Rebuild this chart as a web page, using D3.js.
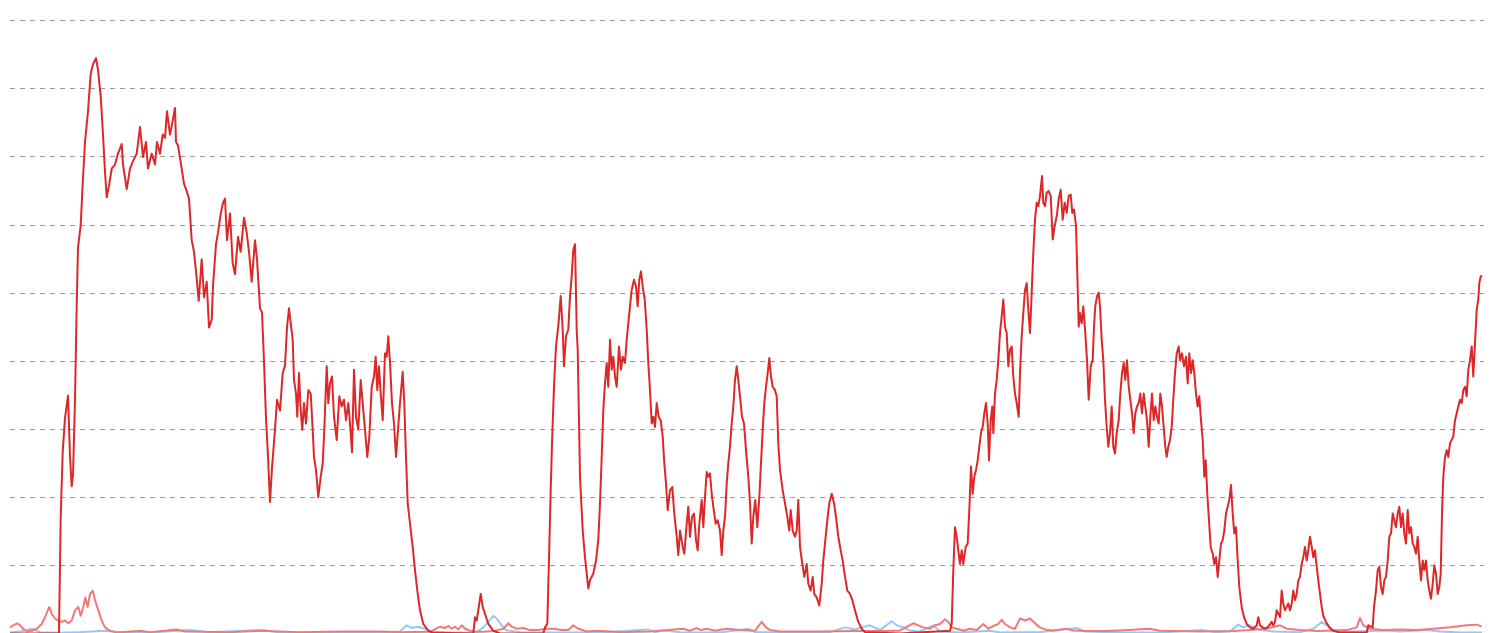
<!DOCTYPE html>
<html>
<head>
<meta charset="utf-8">
<script src="https://cdn.jsdelivr.net/npm/d3@7"></script>
<style>
  html, body { margin: 0; padding: 0; background: #ffffff; overflow: hidden; }
  svg { display: block; }
</style>
</head>
<body>
<svg id="chart" width="1490" height="633"></svg>
<script>
// ---- data (time index, value) ----
const yTicks = [10, 20, 30, 40, 50, 60, 70, 80, 90];

const mainT = [0,49,50.7,52.7,55,58,60,61.7,63,65,66.7,68,70.7,72.7,75,78,80.7,83,86,88,90.7,93,95,96.7,99,101.7,105,108,111.7,113,116.7,120,123,126.7,130,133,136,138,141.7,145,147,150,152.7,155,157,160,162.7,165,166,168,171.7,174,176.7,179,181.7,184,186.7,188.7,191.7,194,196.7,199,201.7,203,206,208,210.7,213,215,217,220,222.7,225,228,230.7,234,236.7,239,241.7,245,247,250,252,254,256,258,260,262,265,267,270,272.7,275,277,279,282.7,284,286,287.3,289,290.7,292.3,294,296,298.3,300.7,302.7,304,306,308.3,310.7,312.7,314.3,316.7,318.3,320,322,324,326.7,329.3,331.7,334,336,338.3,340,342,344,346,348.3,350.7,352.7,355,357.3,359.3,361.7,364,365.7,367.3,369,370.7,372.7,375,376.7,378.3,380,382,384,386,388,390,392.7,394.3,396,397.7,400,402.7,405,407.3,410,413.3,418.3,423.3,463.3,465,466.7,468.3,470.7,472.7,475,478.3,483.3,490,533.3,535,537.3,539.3,540.7,542,544,546,548.3,550.7,552.7,554,556,558.3,560,561.7,563.3,565,566.7,567.7,570,572.7,575,578.3,580,583.3,586,588.3,590,591.7,593.3,595,596.7,598.3,600,601.7,603.3,605,606.7,609,611,612.7,615,616.7,618.3,620,621.7,624,626,627.7,629.3,631,632.7,634.7,636.7,638.3,640,641.7,643.3,645,646.7,648.7,650.7,652.7,654.3,656,657.7,660,662.3,664.3,666.7,668.3,670,672.7,674.3,676.7,678.3,680,682,684,686,687.7,689.3,691.7,693.3,695,696.7,698.3,700,701.7,703.3,705.7,707.7,710,711.7,713.3,715,716.7,718.3,720,721.7,723.3,725,726.7,728.3,730,732,734,736,738.3,740,741.7,743.3,745.3,747.3,749.3,751,752.7,754.3,756,757.7,759.3,761,762.7,765,766.7,768.3,770,772.7,775,777.3,779.3,780.7,782.7,785,786.7,788.3,790,792.3,794.3,796.7,798.3,800.7,802.7,804.3,806.7,809.3,811.7,813.3,815,817.3,819.3,821.7,824,826,828.3,830.7,832.7,835,837.3,840,842.3,845,848.3,851.7,855,890,940,941.7,943.3,945,946.7,948.3,950,951.7,953.3,955.7,957.7,959.3,961,962.7,964.3,966,967.7,969.3,971,972.7,974.3,976,977.7,979,980.7,982.3,983.3,985,986.7,988.3,990,991.7,993.3,995,996.7,998.3,1000,1001.7,1003.3,1005,1006.7,1008.7,1010,1011.7,1013.3,1015,1016.7,1018.3,1020,1021.7,1023.3,1025,1026.7,1028.3,1030,1032,1033.3,1035,1036.7,1038.7,1040.7,1042.7,1044.7,1046.7,1048.7,1050.7,1052.7,1054.7,1056.7,1058.7,1060.7,1062.3,1064,1066,1067.3,1068.7,1070,1071.7,1073.3,1075.3,1077,1078.7,1080.7,1082.7,1084,1085.3,1087,1088.7,1090,1091.7,1093.3,1095,1096.7,1098.3,1100,1101.7,1103.3,1105,1106.7,1108.7,1110.3,1112,1113.7,1115.3,1117,1118.7,1120.3,1122,1123.7,1125.3,1127,1128.7,1130.3,1132,1133.7,1135.3,1137,1138.7,1140.3,1142,1143.7,1145.3,1147,1148.7,1150.3,1152,1153.7,1155.3,1156.7,1158.3,1160,1161.7,1163.3,1165,1166.7,1168.7,1170,1172,1174,1176,1177.7,1179.3,1181,1182.7,1184.3,1186,1187.7,1189.3,1191,1192.7,1194.3,1195.7,1197.3,1199,1200.7,1202.7,1204.3,1206,1207.7,1209.3,1211,1212.7,1214.3,1216,1217.7,1219.3,1221,1222.7,1224.3,1226,1227.7,1229.3,1231.7,1234,1236.7,1240,1243.3,1246.7,1248.3,1250,1252.7,1255,1257.3,1259.3,1261.7,1263.3,1265,1266.7,1268.3,1270,1271.7,1273.3,1275,1276.7,1278.3,1280,1281.7,1283.3,1285,1286.7,1288.3,1290,1291.7,1293.3,1295,1296.7,1298.3,1300,1301.7,1303.3,1305,1306.7,1308.3,1310,1311.7,1313.3,1316,1319.3,1323.3,1328.3,1356.7,1358.3,1362.7,1364,1366,1367.7,1369.3,1371,1372.7,1374.3,1376,1377.7,1379.3,1381,1382.7,1384.3,1386,1387.7,1389.3,1391,1392.7,1394.3,1396,1397.7,1399.3,1401,1402.7,1404.3,1406,1407.7,1409.3,1411,1412.7,1414.3,1416,1417.7,1419.3,1421,1422.7,1424.3,1426,1427.7,1429.3,1430.7,1432,1433.3,1435,1436.7,1438.3,1440,1441.7,1443.3,1445,1446.7,1448.3,1450,1451.7,1453.3,1455,1456.7,1458.3,1460,1461.7,1463.3,1465,1466.7,1468.3,1469.3,1470.7,1472.3];
const mainV = [0,0,17.1,26.6,31.6,34.9,26,21.6,23.2,34.3,48.2,56.6,59.9,66,72.1,76.6,82.1,83.5,84.4,82.7,78.8,73.2,67.7,64,65.7,68.2,68.8,70.4,71.8,68.8,65.2,68.2,69.3,70.4,74.3,69.9,72.1,68.2,70.4,68.8,72.1,70.4,73.2,72.7,76.6,73.2,75.2,77.1,72.1,71.6,68.2,66,64.9,63.8,57.7,56,52.1,48.8,54.9,49.3,51.6,44.9,46,51,57.1,58.8,61.6,63.2,63.8,57.7,61.6,54.3,52.7,58.2,56,61,58.8,56,51.6,57.7,54.9,47.7,47.1,39.9,31.6,26,19.3,24.3,29.9,34.3,32.7,38.2,39.3,44.9,47.7,43.1,37.2,35.2,31.8,38.2,32.8,29.9,33.8,30.8,35.7,35.2,29.9,25.9,24,20,23,24.9,29.9,39.2,33.8,36.7,37.7,31.8,28.4,34.8,33.3,34.3,31.3,33.8,30.8,26.6,38.7,31.8,29.9,37.2,33.8,29.9,25.9,28.8,36.2,37.7,40.6,35.7,39.2,35.2,31.3,41.1,40.6,43.6,39.7,33.8,30.8,25.9,29.9,33.8,38.4,33.8,25.9,19.1,16.1,12.7,9.3,6.3,3.4,1.4,0.4,0.1,0,2.4,1.9,3.4,5.8,3.9,2.9,1.4,0.4,0,0,0.9,1.4,12.7,21,27.9,36.2,42.1,45.1,49.5,44.6,39.2,43.6,44.6,49.5,52.4,56.3,57.1,44.6,41.6,23,15.1,11.2,6.6,7.8,8.8,10.7,13.7,19.1,25.9,32.8,36.7,39.7,36.2,43.1,38.7,40.6,37.7,36.2,42.1,38.7,40.6,39.7,43.1,45.5,48,50.4,51.9,50.9,48,51.9,53.1,50.9,49,44.6,39.7,35.7,30.8,31.8,30.3,33.8,31.8,31.3,28.9,25,22,18.1,21,21.5,17.6,14.2,11.5,15.1,12.7,11.7,16.1,18.6,14.2,17.1,17.6,13.7,12.2,16.1,19.6,15.6,20,23.7,23,23.5,20.5,18.6,16.1,16.6,15.1,11.5,15.1,17.1,22,25,27.4,30.8,33.3,37.2,39.2,37.2,34.8,31.8,30.8,26.9,23,19.1,13.2,17.1,19.6,15.6,20,25,29.9,33.8,36.2,38.2,40.4,37.7,36.2,35.7,34.8,27.9,24,21,19.1,17.1,15.1,18.1,15.1,14.2,15.1,19.6,12.7,10.2,8.3,10.2,7.3,6.3,8.3,5.8,5.3,4.1,7.3,10.7,13.2,16.6,19.1,20.5,19.1,17.1,14.2,12.2,10.7,8.3,6.3,5.8,4.9,3.4,1.7,0.7,0.2,0,0.4,1.4,9.3,15.6,14.2,12.2,10.2,12.2,10.2,12.7,13.2,18.1,24.5,20.5,23,24,25.4,27.4,29.4,30.3,32.3,33.8,30.8,25.4,31.3,33.3,29.4,35.2,37.2,40.1,44.1,46.5,49,45,44.1,39.2,41.6,42.1,37.7,35.2,33.8,31.8,38.2,43.6,47,50.4,51.4,47.5,44.1,50,55.8,60.7,63.2,62.7,64.2,67.1,63.2,62.7,64.7,64.9,64.2,57.8,59.8,61.2,63.7,65.1,60.7,63.2,61.7,64.2,64.4,61.7,62.2,59.8,52.9,45,47,45.5,48,44.1,40.1,34.3,39.2,40.1,45,48,49.5,50,48,43.1,40.1,34.3,30.3,27.4,29.4,33.3,27.4,26.4,29.4,31.3,35.2,38.2,39.7,37.2,40.1,36.2,34.3,32.3,29.4,32.3,33.3,33.8,35.2,32.3,35.2,33.3,31.3,27.4,31.8,35.2,31.3,33.3,31.8,30.8,35.2,33.3,30.3,27.4,25.9,27.4,28.4,30.3,34.3,38.2,41.1,42.1,40.1,41.1,39.2,40.6,36.7,41.1,38.2,40.1,38.2,35.2,33.3,34.8,31.3,28.4,23,25.4,20.5,16.6,12.7,11.7,10.2,11.2,8.3,10.7,13.2,13.7,15.1,17.6,18.6,19.6,21.8,17.6,14.7,15.6,10.7,6.8,3.9,2.4,1.4,0.9,0.7,1.2,2.4,1.2,0.9,0.7,0.9,1.2,1.7,1.2,1.7,3.4,2.9,2.4,6.3,4.4,3.4,3.9,4.4,3.4,4.4,6.3,4.9,5.8,7.8,8.3,10.2,11.2,12.7,10.7,12.2,14.2,12.7,11.2,12.2,9.8,7.8,5.8,3.9,2.6,1.7,0.9,0.4,0.2,0.1,1.2,0.9,3.9,6.3,9.3,9.8,6.8,5.8,7.8,8.3,10.7,14.2,14.7,17.6,16.6,15.6,17.6,18.6,15.6,17.6,14.7,13.2,18.1,14.7,15.6,13.2,12.7,11.7,14.2,10.7,7.8,10.7,9.3,10.7,7.8,6.3,5.1,7.3,10,8.8,5.8,6.8,8.8,17.6,23,25.9,26.9,25.9,27.9,28.4,28.9,31.3,32.3,33.3,34.3,33.8,35.7,36.2,34.8,38.7,40.1,42.1,37.7,42.6,47.5,49,51.4,52.4,52.4];

const pinkT = [0,3.3,7.3,10,13.3,16.7,21.7,26.7,31.7,35,39.3,41.7,45,48.3,51.7,55,58.3,61.7,65,68.3,70.7,73.3,75.3,77.7,80,82.7,85,88.3,91.7,95,100,106.7,130,140,166.7,175,220,250,290,330,370,390,420,430,435,438.3,441.7,445,448.3,451.7,455,460,466.7,473.3,483.3,493.3,498.3,501.7,506.7,513.3,520,528.3,536.7,543.3,551.7,558.3,563.3,568.3,576.7,586.7,600,610,640,673,680,686.7,691,696.7,705,716.7,730,745,751.7,756,760,770,810,843,876.7,890,903.3,908.3,913.3,920,925,930,935,938.3,941.7,946.7,953.3,960,966.7,973.3,978.3,983.3,988.3,991.7,995,1000,1005,1010,1015,1020,1025,1030,1036.7,1043.3,1056.7,1063.3,1076.7,1093.3,1110,1140,1150,1190,1223,1240,1256.7,1270,1276.7,1290,1306.7,1323.3,1336.7,1346.7,1350,1353.3,1360,1373.3,1390,1406.7,1423.3,1440,1456.7,1466.7,1471.7];
const pinkV = [0.9,1.2,1.5,1.2,0.7,0.3,0.4,0.7,1.4,2.4,3.9,2.9,2.2,1.9,1.7,1.9,1.5,1.9,3.4,3.9,2.6,3.9,5.3,3.9,5.8,6.3,4.9,3.4,1.9,0.9,0.4,0.15,0.4,0.2,0.6,0.3,0.2,0.4,0.2,0.3,0.3,0.2,0.25,1,0.8,1.1,0.7,1,0.6,1.2,0.7,0.4,0.25,0.25,0.35,0.7,1.5,1,0.7,0.8,0.5,0.5,0.7,0.7,0.5,0.5,1.2,0.7,0.3,0.4,0.3,0.2,0.3,0.7,0.4,0.8,0.5,0.7,0.4,0.7,0.5,0.4,1.7,0.9,0.5,0.3,0.3,0.35,0.35,0.45,1.5,1.2,0.9,0.7,1.2,1.4,2.1,1.7,0.9,0.7,0.4,0.7,0.5,1.4,0.7,1.1,1.4,2,1.4,0.9,0.7,2.2,1.9,2.2,1.5,0.9,0.5,0.45,0.7,0.45,0.35,0.35,0.45,0.7,0.4,0.3,0.35,0.5,0.7,1.2,0.7,0.5,0.35,0.45,0.5,0.9,2.3,1.2,0.7,0.5,0.6,0.5,0.7,0.9,1.2,1.3,1];

const blueT = [0,10,21.7,30,50,70,95,110,140,180,200,253,270,320,370,390,396.7,401.7,408.3,415,421.7,440,466.7,473.3,478.3,483.3,486.7,491.7,496.7,510,550,590,638.3,645,653.3,670,710,738.3,745,790,820,835,845,860,870,881.7,886.7,893.3,900,910,923.3,930,950,980,990,1030,1066.7,1075,1110,1150,1193,1205,1220,1228.3,1233.3,1240,1250,1263,1290,1303.3,1311.7,1316.7,1323.3,1340,1376.7,1390,1416.7,1430,1450,1472];
const blueV = [0.2,0.3,0.7,0.2,0.1,0.2,0.4,0.2,0.15,0.5,0.2,0.5,0.15,0.1,0.1,0.3,1.2,0.8,1,0.7,0.3,0.15,0.2,0.9,1.7,2.6,2.2,1.2,0.45,0.2,0.15,0.15,0.6,0.2,0.45,0.2,0.15,0.7,0.2,0.15,0.2,0.9,0.6,1.2,0.5,1.8,1.2,0.9,0.4,0.3,1.2,0.3,0.15,0.4,0.15,0.2,0.8,0.3,0.15,0.15,0.5,0.2,0.3,1.3,0.9,1.2,0.5,0.3,0.2,0.7,1.7,1.2,0.45,0.3,0.45,0.3,0.5,0.3,0.15,0.15];

// ---- drawing ----
const svg = d3.select("#chart");
const x = d3.scaleLinear().domain([0, 1474]).range([10, 1484]);
const y = d3.scaleLinear().domain([0, 90]).range([633.5, 20]);

// gridlines
svg.append("g").selectAll("line").data(yTicks).join("line")
  .attr("x1", x(0)).attr("x2", x(1474))
  .attr("y1", d => Math.round(y(d)) + 0.5)
  .attr("y2", d => Math.round(y(d)) + 0.5)
  .attr("stroke", "#9a9a9a").attr("stroke-width", 1)
  .attr("stroke-dasharray", "5,5");

const line = d3.line().x(d => x(d[0])).y(d => y(d[1]));
const zip = (ts, vs) => ts.map((t, i) => [t, vs[i]]);

svg.append("path").datum(zip(blueT, blueV)).attr("d", line)
  .attr("fill", "none").attr("stroke", "#96c6fa").attr("stroke-width", 2)
  .attr("stroke-linejoin", "round");
svg.append("path").datum(zip(pinkT, pinkV)).attr("d", line)
  .attr("fill", "none").attr("stroke", "#f47878").attr("stroke-width", 2)
  .attr("stroke-linejoin", "round");
svg.append("path").datum(zip(mainT, mainV)).attr("d", line)
  .attr("fill", "none").attr("stroke", "#dc2828").attr("stroke-width", 2)
  .attr("stroke-linejoin", "round");
</script>
</body>
</html>
